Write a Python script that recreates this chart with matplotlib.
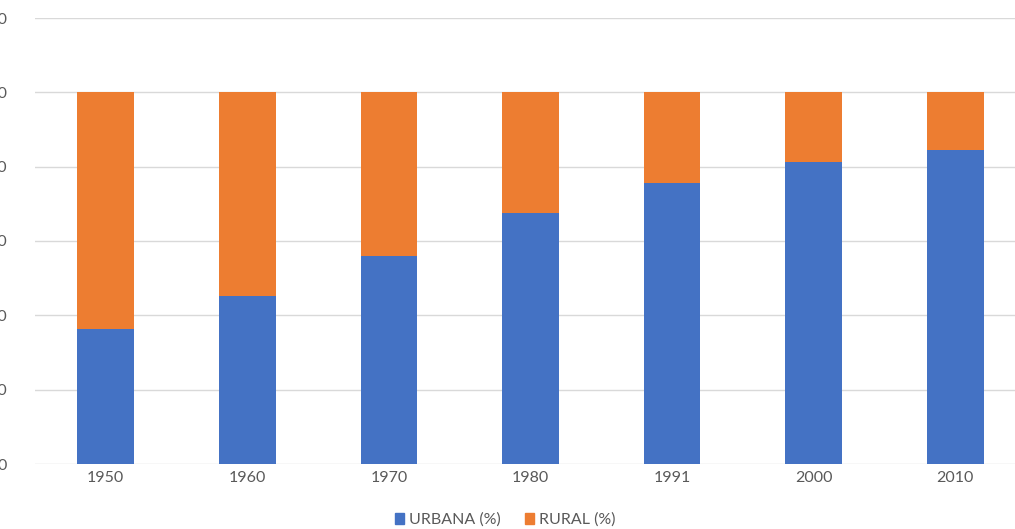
import matplotlib
matplotlib.use("Agg")
import matplotlib.pyplot as plt
from matplotlib.patches import Patch

years = ["1950", "1960", "1970", "1980", "1991", "2000", "2010"]
urbana = [36.2, 45.1, 55.9, 67.6, 75.6, 81.2, 84.4]
rural = [63.8, 54.9, 44.1, 32.4, 24.4, 18.8, 15.6]
yticks = [0, 20, 40, 60, 80, 100, 120]

plt.rcParams['font.family'] = ['Lato', 'DejaVu Sans']

BLUE = "#4472C4"
ORANGE = "#ED7D31"
GRAY = "#595959"

fig = plt.figure(figsize=(10.15, 5.29), dpi=100)
left = 35.0 / 1015
width = (1026.0 - 35.0) / 1015
bottom = 65.0 / 529
height = (511.0 - 65.0) / 529
ax = fig.add_axes([left, bottom, width, height])

x = list(range(len(years)))
ax.bar(x, urbana, width=0.40, color=BLUE, zorder=3)
ax.bar(x, rural, width=0.40, bottom=urbana, color=ORANGE, zorder=3)

ax.set_xlim(-0.5, len(years) - 0.5)
ax.set_ylim(0, 120)
ax.set_yticks(yticks)
ax.set_yticklabels([str(v) for v in yticks])
ax.set_xticks(x)
ax.set_xticklabels(years)

ax.grid(axis='y', color="#D9D9D9", linewidth=1.0, zorder=0)
for s in ax.spines.values():
    s.set_visible(False)
ax.tick_params(axis='both', length=0, colors=GRAY, labelsize=11.5)
ax.tick_params(axis='y', pad=20)
ax.tick_params(axis='x', pad=5)

handles = [Patch(color=BLUE, label="URBANA (%)"), Patch(color=ORANGE, label="RURAL (%)")]
fig.legend(handles=handles, loc='center', bbox_to_anchor=(505 / 1015, 1 - 520 / 529),
           ncol=2, frameon=False, fontsize=11.5, handlelength=0.6, handleheight=0.6,
           handletextpad=0.3, columnspacing=1.5, labelcolor=GRAY)

fig.savefig("out.png", dpi=100, facecolor="white")
